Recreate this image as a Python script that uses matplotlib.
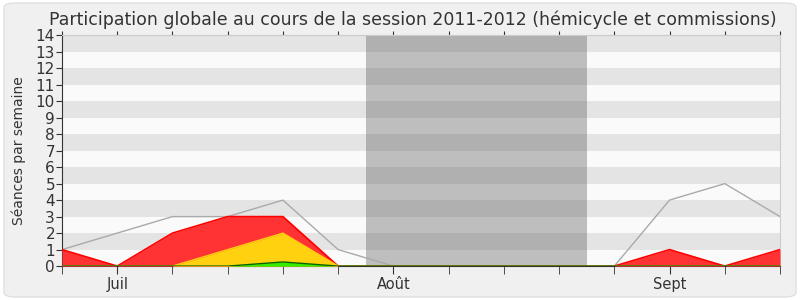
import numpy as np
import matplotlib.pyplot as plt
from matplotlib.patches import FancyBboxPatch

# semaines (index) et valeurs
weeks = list(range(14))
total = [1, 2, 3, 3, 4, 1, 0, 0, 0, 0, 0, 4, 5, 3]
presences = [1, 0, 2, 3, 3, 0, 0, 0, 0, 0, 0, 1, 0, 1]
interventions = [0, 0, 0, 1, 2, 0, 0, 0, 0, 0, 0, 0, 0, 0]
questions = [0, 0, 0, 0, 0.25, 0, 0, 0, 0, 0, 0, 0, 0, 0]
month_ticks = [1, 6, 11]
month_labels = ['Juil', 'Août', 'Sept']
vacances = (5.5, 9.5)

fig = plt.figure(figsize=(8, 3), dpi=100)
fig.patch.set_facecolor('white')
bg = FancyBboxPatch((0.005, 0.01), 0.99, 0.98, boxstyle='round,pad=0,rounding_size=0.015',
                    transform=fig.transFigure, facecolor='#f0f0f0', edgecolor='#e0e0e0',
                    lw=1, zorder=-10)
fig.patches.append(bg)

ax = fig.add_axes([0.0775, 0.113, 0.8975, 0.77])
ax.set_xlim(0, 13)
ax.set_ylim(0, 14)

# bandes horizontales
for i in range(14):
    ax.axhspan(i, i + 1, color='#e4e4e4' if i % 2 == 1 else '#fafafa', lw=0, zorder=0)
    ax.fill_between([vacances[0], vacances[1]], i, i + 1,
                    color='#b0b0b0' if i % 2 == 1 else '#bebebe', lw=0, zorder=0.5)

ax.plot(weeks, total, color='#aaaaaa', lw=1, zorder=2)
ax.fill_between(weeks, presences, color='#ff3333', lw=0, zorder=3)
ax.plot(weeks, presences, color='#ff0000', lw=1.2, zorder=3)
ax.fill_between(weeks, interventions, color='#ffd10f', lw=0, zorder=4)
ax.plot(weeks, interventions, color='#ffd10f', lw=1, zorder=4)
ax.fill_between(weeks, questions, color='#33ee00', lw=0, zorder=5)
ax.plot(weeks, questions, color='#006600', lw=1, zorder=5)

ax.set_yticks(range(15))
ax.set_xticks(weeks, minor=True)
ax.set_xticks(month_ticks)
ax.set_xticklabels(month_labels, fontsize=10.5, color='#333333')
ax.tick_params(axis='y', labelsize=11, colors='#333333', length=4, pad=1)
ax.tick_params(axis='x', which='both', length=6, color='#333333', direction='out')
ax.tick_params(axis='x', which='major', pad=2)

top = ax.secondary_xaxis('top')
top.set_xticks(weeks)
top.tick_params(length=3, color='#333333', labeltop=False)
top.spines['top'].set_color('#cccccc')
for s in ['top', 'right']:
    ax.spines[s].set_color('#cccccc')
ax.spines['left'].set_color('#333333')
ax.spines['bottom'].set_color('#333333')

ax.set_ylabel('Séances par semaine', fontsize=10, color='#333333')
ax.yaxis.set_label_coords(-0.05, 0.5)
fig.text(0.516, 0.935,
         'Participation globale au cours de la session 2011-2012 (hémicycle et commissions)',
         fontsize=12.5, color='#333333', ha='center', va='center')

fig.savefig('out.png', dpi=100)
